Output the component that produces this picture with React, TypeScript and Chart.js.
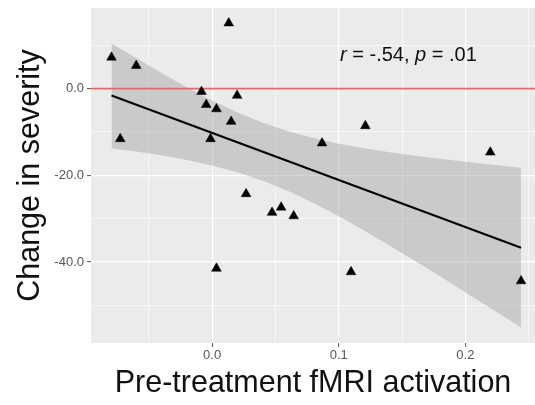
import React, { useEffect, useRef } from 'react';
import { Chart, registerables } from 'chart.js';

Chart.register(...registerables);

// Scatter points (pre-treatment fMRI activation vs change in severity)
const pointX = [-0.0795, -0.06, -0.0726, 0.0131, -0.0084, -0.0047, 0.0034, 0.0197, 0.015, -0.0013,
  0.0268, 0.0473, 0.0545, 0.0644, 0.1097, 0.244, 0.0034, 0.121, 0.0868, 0.2197];
const pointY = [7.2, 5.3, -11.6, 15.1, -0.7, -3.7, -4.7, -1.6, -7.6, -11.6,
  -24.3, -28.6, -27.4, -29.4, -42.3, -44.4, -41.5, -8.6, -12.6, -14.7];

// Linear fit line
const fitX = [-0.0795, 0.244];
const fitY = [-1.6, -36.7];

// Confidence band
const bandX = [-0.0795, -0.06, -0.04, -0.02, 0, 0.02, 0.04, 0.06, 0.08, 0.1, 0.12, 0.14, 0.16, 0.18, 0.2, 0.22, 0.244];
const bandUpper = [10.4, 7.05, 3.61, 0.33, -2.74, -5.5, -7.88, -9.84, -11.42, -12.7, -13.76, -14.66, -15.47, -16.2, -16.88, -17.52, -18.25];
const bandLower = [-13.8, -14.49, -15.39, -16.45, -17.72, -19.3, -21.26, -23.64, -26.4, -29.46, -32.74, -36.18, -39.71, -43.32, -46.98, -50.68, -55.15];

// Axes
const xRange = [-0.0957, 0.255];
const yRange = [-58.7, 18.6];
const xTicks = [-0.05, 0, 0.05, 0.1, 0.15, 0.2, 0.25];
const xTickLabels = ['', '0.0', '', '0.1', '', '0.2', ''];
const yTicks = [10, 0, -10, -20, -30, -40, -50];
const yTickLabels = ['', '0.0', '', '-20.0', '', '-40.0', ''];
const xTitle = 'Pre-treatment fMRI activation';
const yTitle = 'Change in severity';

// Reference line & annotation
const refLineY = 0;
const annotX = 0.155;
const annotY = 7.6;
const annotParts: [string, boolean][] = [['r', true], [' = -.54, ', false], ['p', true], [' = .01', false]];

const FONT = "'Liberation Sans', Arial, Helvetica, sans-serif";

function labelFor(ticks: number[], labels: string[], v: number) {
  const i = ticks.findIndex((t) => Math.abs(t - v) < 1e-9);
  return i >= 0 ? labels[i] : '';
}

const bgPlugin = {
  id: 'panelBg',
  beforeDraw(chart: any) {
    const { ctx, chartArea: a } = chart;
    ctx.save();
    ctx.fillStyle = '#ffffff';
    ctx.fillRect(0, 0, chart.width, chart.height);
    ctx.fillStyle = '#EBEBEB';
    ctx.fillRect(a.left, a.top, a.right - a.left, a.bottom - a.top);
    ctx.restore();
  },
};

const annotPlugin = {
  id: 'annot',
  afterDatasetsDraw(chart: any) {
    const { ctx, scales } = chart;
    const cx = scales.x.getPixelForValue(annotX);
    const cy = scales.y.getPixelForValue(annotY);
    ctx.save();
    const size = 20;
    const widths = annotParts.map(([t, it]) => {
      ctx.font = `${it ? 'italic ' : ''}${size}px ${FONT}`;
      return ctx.measureText(t).width;
    });
    const total = widths.reduce((s, w) => s + w, 0);
    let x = cx - total / 2;
    ctx.fillStyle = '#111111';
    ctx.textBaseline = 'middle';
    ctx.textAlign = 'left';
    annotParts.forEach(([t, it], i) => {
      ctx.font = `${it ? 'italic ' : ''}${size}px ${FONT}`;
      ctx.fillText(t, x, cy);
      x += widths[i];
    });
    ctx.restore();
  },
};

export default function App() {
  const ref = useRef<HTMLCanvasElement | null>(null);
  useEffect(() => {
    document.body.style.margin = '0';
    if (!ref.current) return;
    const chart = new Chart(ref.current, {
      type: 'scatter',
      data: {
        datasets: [
          {
            type: 'scatter',
            data: pointX.map((x, i) => ({ x, y: pointY[i] })),
            pointStyle: 'triangle',
            pointRadius: 5.6,
            pointBackgroundColor: '#000000',
            pointBorderColor: '#000000',
            pointBorderWidth: 0.5,
          },
          {
            type: 'line',
            data: fitX.map((x, i) => ({ x, y: fitY[i] })),
            borderColor: '#000000',
            borderWidth: 2.2,
            pointRadius: 0,
            fill: false,
          },
          {
            type: 'line',
            data: xRange.map((x) => ({ x, y: refLineY })),
            borderColor: '#E36A6A',
            borderWidth: 1.6,
            pointRadius: 0,
            fill: false,
          },
          {
            type: 'line',
            data: bandX.map((x, i) => ({ x, y: bandUpper[i] })),
            borderWidth: 0,
            borderColor: 'rgba(0,0,0,0)',
            backgroundColor: 'rgba(153,153,153,0.4)',
            pointRadius: 0,
            fill: '+1',
          },
          {
            type: 'line',
            data: bandX.map((x, i) => ({ x, y: bandLower[i] })),
            borderWidth: 0,
            borderColor: 'rgba(0,0,0,0)',
            pointRadius: 0,
            fill: false,
          },
        ],
      },
      options: {
        animation: false,
        responsive: false,
        maintainAspectRatio: false,
        layout: { autoPadding: false, padding: { top: 8, right: 0, bottom: 0, left: 0 } },
        plugins: { legend: { display: false }, tooltip: { enabled: false } },
        scales: {
          x: {
            type: 'linear',
            min: xRange[0],
            max: xRange[1],
            afterBuildTicks: (s: any) => { s.ticks = xTicks.map((v) => ({ value: v })); },
            afterFit: (s: any) => { s.height = 62; s.paddingLeft = 0; s.paddingRight = 0; },
            border: { display: false },
            grid: {
              color: '#ffffff',
              lineWidth: (c: any) => (labelFor(xTicks, xTickLabels, c.tick?.value) ? 1.2 : 0.6),
              tickColor: (c: any) => (labelFor(xTicks, xTickLabels, c.tick?.value) ? '#555555' : 'rgba(0,0,0,0)'),
              tickLength: 4,
              tickWidth: 1,
            },
            ticks: {
              autoSkip: false,
              maxRotation: 0,
              padding: 1,
              color: '#555555',
              font: { family: FONT, size: 13 },
              callback: (v: any) => labelFor(xTicks, xTickLabels, Number(v)),
            },
            title: {
              display: true,
              text: xTitle,
              color: '#111111',
              font: { family: FONT, size: 30.5, lineHeight: 1.2 },
              padding: { top: 0, bottom: 3 },
            },
          },
          y: {
            type: 'linear',
            min: yRange[0],
            max: yRange[1],
            afterBuildTicks: (s: any) => { s.ticks = yTicks.map((v) => ({ value: v })); },
            afterFit: (s: any) => { s.width = 91; s.paddingTop = 0; s.paddingBottom = 0; },
            border: { display: false },
            grid: {
              color: '#ffffff',
              lineWidth: (c: any) => (labelFor(yTicks, yTickLabels, c.tick?.value) ? 1.2 : 0.6),
              tickColor: (c: any) => (labelFor(yTicks, yTickLabels, c.tick?.value) ? '#555555' : 'rgba(0,0,0,0)'),
              tickLength: 4,
              tickWidth: 1,
            },
            ticks: {
              autoSkip: false,
              padding: 3,
              color: '#555555',
              font: { family: FONT, size: 13 },
              callback: (v: any) => labelFor(yTicks, yTickLabels, Number(v)),
            },
            title: {
              display: true,
              text: yTitle,
              color: '#111111',
              font: { family: FONT, size: 30.5, lineHeight: 1.2 },
              padding: { top: 12, bottom: 0 },
            },
          },
        },
      },
      plugins: [bgPlugin, annotPlugin],
    } as any);
    return () => chart.destroy();
  }, []);
  return (
    <div style={{ position: 'relative', width: 535, height: 405 }}>
      <canvas ref={ref} width={535} height={405} />
    </div>
  );
}
